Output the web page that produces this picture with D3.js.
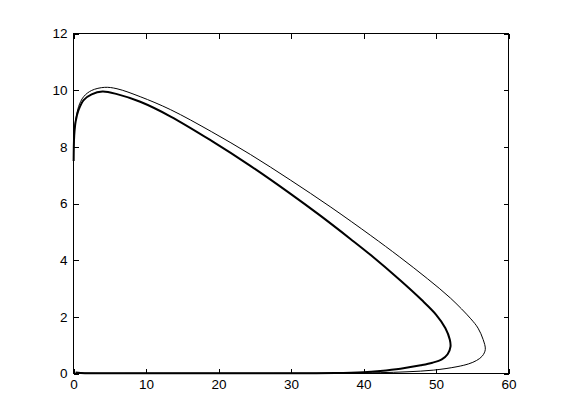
<!DOCTYPE html>
<html>
<head>
<meta charset="utf-8">
<script src="https://cdn.jsdelivr.net/npm/d3@7"></script>
<style>
  html, body { margin: 0; padding: 0; background: #fff; }
  svg { display: block; }
  text { font-family: "Liberation Sans", Arial, Helvetica, sans-serif; font-size: 13.5px; fill: #000; }
</style>
</head>
<body>
<svg id="chart" width="561" height="420"></svg>
<script>
// Tick values
const xTicks = [0, 10, 20, 30, 40, 50, 60];
const yTicks = [0, 2, 4, 6, 8, 10, 12];

// First (transient) loop - thin outer curve
const outerX = [0.02, 0.1, 0.3, 0.7, 1.4, 2.5, 4.3, 6.0, 9.2, 13.4, 19, 24.4, 29.9, 35.5, 41.0, 45.0, 48.8, 52.0, 54.8, 55.8, 56.5, 56.8, 56.4, 55.6, 54.5, 52.9, 49.7, 46.0, 42.3, 38.0, 30, 20, 10, 3, 1, 0.3];
const outerY = [8.0, 8.5, 8.95, 9.42, 9.77, 9.99, 10.1, 10.05, 9.77, 9.31, 8.54, 7.73, 6.83, 5.87, 4.87, 4.11, 3.35, 2.66, 1.93, 1.6, 1.2, 0.85, 0.62, 0.46, 0.34, 0.24, 0.12, 0.06, 0.03, 0.015, 0.01, 0.01, 0.01, 0.01, 0.02, 0.04];

// Limit cycle - thick inner curve
const innerX = [0.02, 0.1, 0.3, 0.7, 1.4, 2.5, 4.0, 6.0, 9.2, 13.4, 19, 24.4, 29.9, 34.0, 38.2, 41.0, 45.1, 48.0, 50.0, 51.3, 51.9, 52.0, 51.6, 50.8, 49.5, 47.9, 45.1, 42.3, 40.0, 36.0, 30, 20, 10, 3, 1, 0.3];
const innerY = [7.5, 8.4, 8.9, 9.3, 9.65, 9.85, 9.95, 9.86, 9.59, 9.07, 8.22, 7.33, 6.35, 5.58, 4.75, 4.18, 3.28, 2.6, 2.08, 1.6, 1.2, 0.95, 0.68, 0.5, 0.38, 0.29, 0.17, 0.09, 0.045, 0.015, 0.01, 0.01, 0.01, 0.01, 0.02, 0.04];

const svg = d3.select("#chart");
const x = d3.scaleLinear().domain([0, 60]).range([73.5, 508.5]);
const y = d3.scaleLinear().domain([0, 12]).range([373.5, 33.5]);

const tick = 5;

// Axes (ticks inward)
svg.append("g").attr("transform", `translate(0,${y(0)})`)
  .call(d3.axisBottom(x).tickValues(xTicks).tickSizeInner(-tick).tickSizeOuter(0).tickPadding(6).tickFormat(d3.format("d")));
svg.append("g").attr("transform", `translate(0,${y(12)})`)
  .call(d3.axisTop(x).tickValues(xTicks).tickSizeInner(-tick).tickSizeOuter(0).tickFormat(""));
svg.append("g").attr("transform", `translate(${x(0)},0)`)
  .call(d3.axisLeft(y).tickValues(yTicks).tickSizeInner(-tick).tickSizeOuter(0).tickPadding(6).tickFormat(d3.format("d")));
svg.append("g").attr("transform", `translate(${x(60)},0)`)
  .call(d3.axisRight(y).tickValues(yTicks).tickSizeInner(-tick).tickSizeOuter(0).tickFormat(""));

svg.selectAll(".domain").remove();
svg.selectAll(".tick line").attr("stroke", "#000").attr("shape-rendering", "crispEdges");
svg.selectAll(".tick text").attr("font-size", 13.5).attr("font-family", "\"Liberation Sans\", Arial, sans-serif");

// box
svg.append("rect")
  .attr("x", x(0)).attr("y", y(12))
  .attr("width", x(60) - x(0)).attr("height", y(0) - y(12))
  .attr("fill", "none").attr("stroke", "#000").attr("stroke-width", 1)
  .attr("shape-rendering", "crispEdges");

const line = d3.line().x(d => x(d[0])).y(d => y(d[1])).curve(d3.curveCatmullRom.alpha(0.5));

svg.append("path")
  .attr("d", line(outerX.map((v, i) => [v, outerY[i]])))
  .attr("fill", "none").attr("stroke", "#000").attr("stroke-width", 1);

svg.append("path")
  .attr("d", line(innerX.map((v, i) => [v, innerY[i]])))
  .attr("fill", "none").attr("stroke", "#000").attr("stroke-width", 2);
</script>
</body>
</html>
